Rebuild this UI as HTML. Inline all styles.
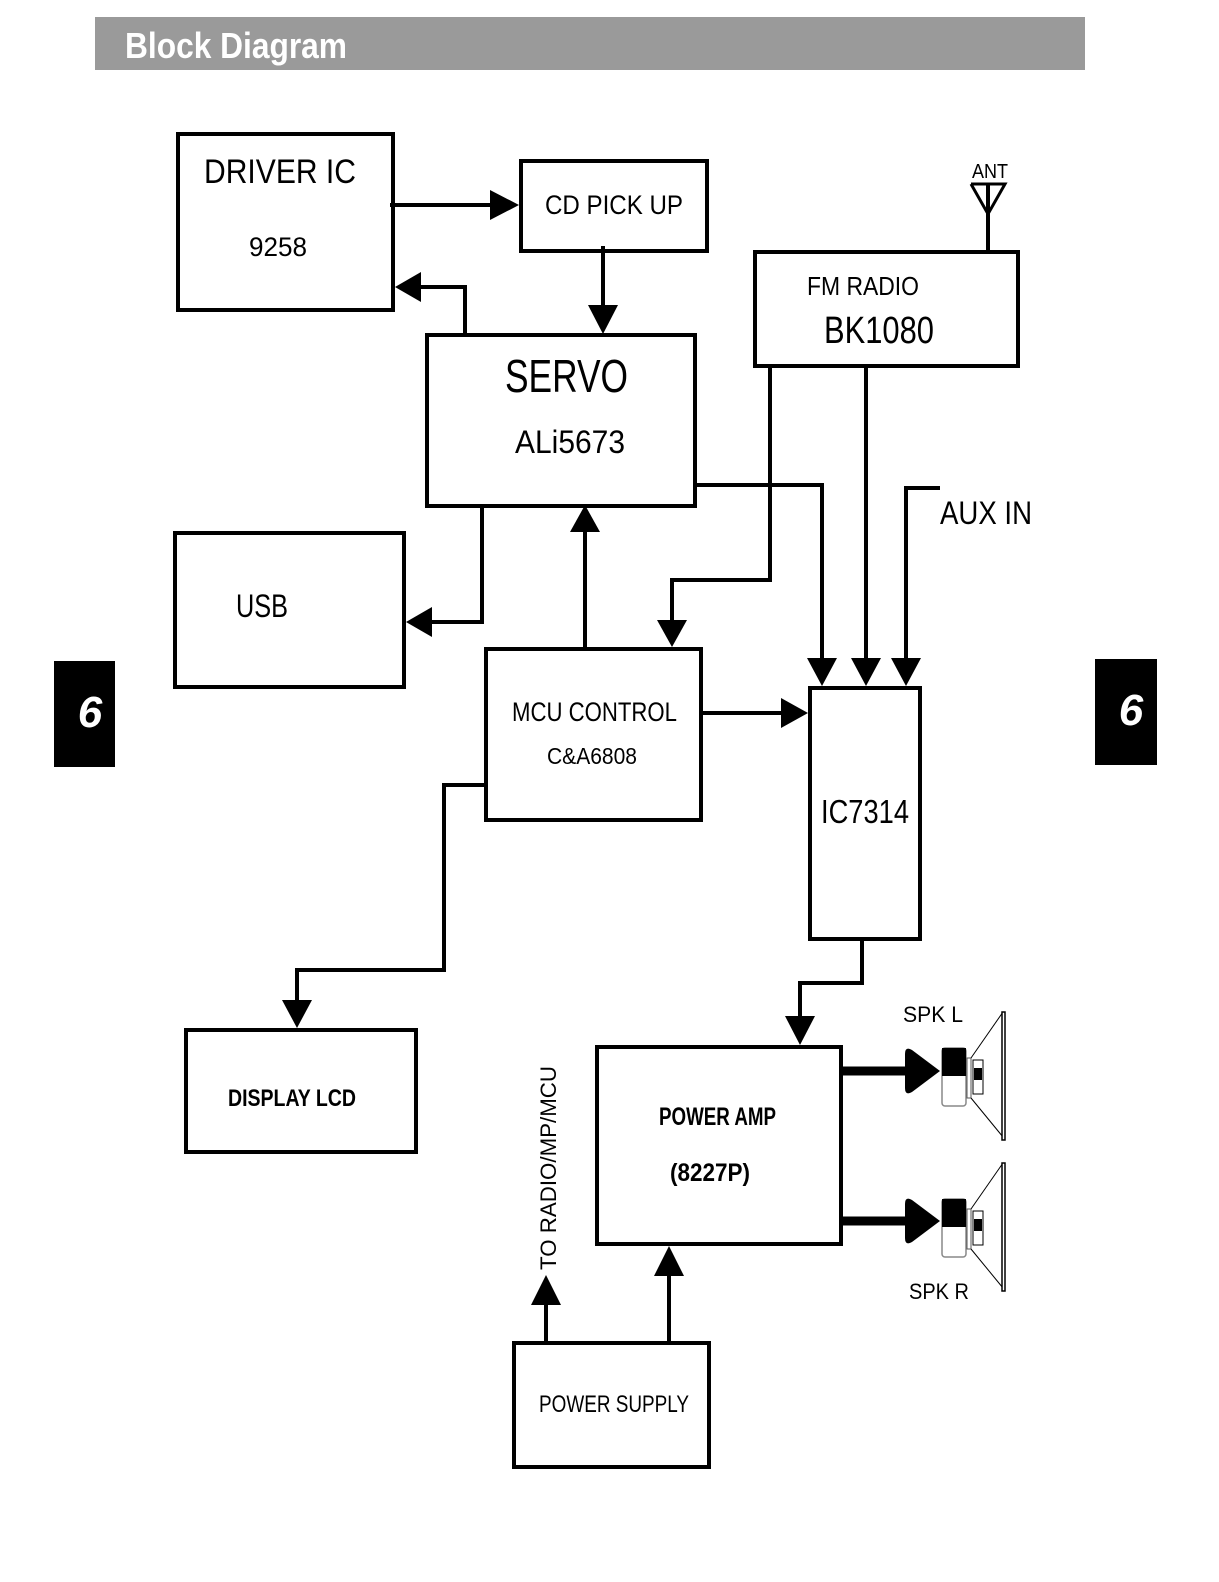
<!DOCTYPE html>
<html><head><meta charset="utf-8"><style>
html,body{margin:0;padding:0;background:#fff;width:1219px;height:1582px;overflow:hidden}
svg{display:block;position:absolute;left:0;top:0}
text{font-family:"Liberation Sans",sans-serif}
</style></head><body>
<svg width="1219" height="1582" viewBox="0 0 1219 1582" xmlns="http://www.w3.org/2000/svg">
<rect x="95" y="17" width="990" height="53" fill="#9a9a9a"/>
<text x="125" y="58" font-size="36" font-weight="bold" fill="#fff" textLength="222" lengthAdjust="spacingAndGlyphs">Block Diagram</text>
<rect x="54" y="661" width="61" height="106" fill="#000"/>
<text x="90" y="727" font-size="44" font-weight="bold" font-style="italic" fill="#fff" text-anchor="middle">6</text>
<rect x="1095" y="659" width="62" height="106" fill="#000"/>
<text x="1131" y="725" font-size="44" font-weight="bold" font-style="italic" fill="#fff" text-anchor="middle">6</text>
<g fill="none" stroke="#000" stroke-width="4">
<rect x="178" y="134" width="215" height="176"/>
<rect x="521" y="161" width="186" height="90"/>
<rect x="755" y="252" width="263" height="114"/>
<rect x="427" y="335" width="268" height="171"/>
<rect x="175" y="533" width="229" height="154"/>
<rect x="486" y="649" width="215" height="171"/>
<rect x="810" y="688" width="110" height="251"/>
<rect x="186" y="1030" width="230" height="122"/>
<rect x="597" y="1047" width="244" height="197"/>
<rect x="514" y="1343" width="195" height="124"/>
<polyline points="390,205 492,205"/>
<polyline points="603,246 603,307"/>
<polyline points="465,335 465,287 420,287"/>
<polyline points="988,252 988,185"/>
<polyline points="971,184 1005,184 988,214 971,184" stroke-width="3"/>
<polyline points="482,506 482,622 430,622"/>
<polyline points="585,649 585,530"/>
<polyline points="770,366 770,580 672,580 672,622"/>
<polyline points="866,366 866,660"/>
<polyline points="695,485 822,485 822,660"/>
<polyline points="940,488 906,488 906,660"/>
<polyline points="701,713 782,713"/>
<polyline points="486,785 444,785 444,970 297,970 297,1002"/>
<polyline points="862,939 862,983 800,983 800,1017"/>
<polyline points="546,1343 546,1303"/>
<polyline points="669,1343 669,1273"/>
<polyline points="841,1071 906,1071" stroke-width="9"/>
<polyline points="841,1221 906,1221" stroke-width="9"/>
</g>
<g fill="#000">
<polygon points="490,190 519,205 490,220"/>
<polygon points="588,305 618,305 603,334"/>
<polygon points="421,272 421,302 395,287"/>
<polygon points="432,607 432,637 406,622"/>
<polygon points="570,532 600,532 585,505"/>
<polygon points="657,620 687,620 672,647"/>
<polygon points="851,658 881,658 866,686"/>
<polygon points="807,658 837,658 822,686"/>
<polygon points="891,658 921,658 906,686"/>
<polygon points="781,698 781,728 808,713"/>
<polygon points="282,1000 312,1000 297,1028"/>
<polygon points="785,1016 815,1016 800,1045"/>
<polygon points="531,1305 561,1305 546,1275"/>
<polygon points="654,1276 684,1276 669,1246"/>
<path d="M905,1054 Q905,1046 912,1050 L940,1071 L912,1092 Q905,1096 905,1088 Z"/>
<path d="M905,1204 Q905,1196 912,1200 L940,1221 L912,1242 Q905,1246 905,1238 Z"/>
</g>
<g>
<rect x="942" y="1048" width="24" height="58" fill="#fff" stroke="#888" stroke-width="1.5" rx="3"/>
<rect x="942" y="1048" width="24" height="28" fill="#000"/>
<rect x="967" y="1058" width="4" height="40" fill="#fff" stroke="#555"/>
<rect x="973" y="1060" width="10" height="34" fill="#fff" stroke="#000"/>
<rect x="974" y="1068" width="8" height="12" fill="#000"/>
<polyline points="971,1058 1003,1012" fill="none" stroke="#000"/>
<polyline points="971,1098 1003,1137" fill="none" stroke="#000"/>
<rect x="1002" y="1012" width="3" height="128" fill="#fff" stroke="#000" stroke-width="1.5"/>
<rect x="942" y="1199" width="24" height="58" fill="#fff" stroke="#888" stroke-width="1.5" rx="3"/>
<rect x="942" y="1199" width="24" height="28" fill="#000"/>
<rect x="967" y="1209" width="4" height="40" fill="#fff" stroke="#555"/>
<rect x="973" y="1211" width="10" height="34" fill="#fff" stroke="#000"/>
<rect x="974" y="1219" width="8" height="12" fill="#000"/>
<polyline points="971,1209 1003,1163" fill="none" stroke="#000"/>
<polyline points="971,1249 1003,1288" fill="none" stroke="#000"/>
<rect x="1002" y="1163" width="3" height="128" fill="#fff" stroke="#000" stroke-width="1.5"/>
</g>
<g fill="#000">
<text x="204" y="183" font-size="34" textLength="152" lengthAdjust="spacingAndGlyphs">DRIVER  IC</text>
<text x="249" y="256" font-size="27" textLength="58" lengthAdjust="spacingAndGlyphs">9258</text>
<text x="545" y="214" font-size="27" textLength="138" lengthAdjust="spacingAndGlyphs">CD  PICK  UP</text>
<text x="972" y="178" font-size="20" textLength="36" lengthAdjust="spacingAndGlyphs">ANT</text>
<text x="807" y="295" font-size="26" textLength="112" lengthAdjust="spacingAndGlyphs">FM  RADIO</text>
<text x="824" y="343" font-size="38" textLength="110" lengthAdjust="spacingAndGlyphs">BK1080</text>
<text x="505" y="392" font-size="46" textLength="123" lengthAdjust="spacingAndGlyphs">SERVO</text>
<text x="515" y="453" font-size="32" textLength="110" lengthAdjust="spacingAndGlyphs">ALi5673</text>
<text x="940" y="524" font-size="32" textLength="92" lengthAdjust="spacingAndGlyphs">AUX  IN</text>
<text x="236" y="617" font-size="32" textLength="52" lengthAdjust="spacingAndGlyphs">USB</text>
<text x="512" y="721" font-size="27" textLength="165" lengthAdjust="spacingAndGlyphs">MCU  CONTROL</text>
<text x="547" y="764" font-size="23" textLength="90" lengthAdjust="spacingAndGlyphs">C&amp;A6808</text>
<text x="821" y="823" font-size="33" textLength="88" lengthAdjust="spacingAndGlyphs">IC7314</text>
<text x="903" y="1022" font-size="22" textLength="60" lengthAdjust="spacingAndGlyphs">SPK  L</text>
<text x="909" y="1299" font-size="22" textLength="60" lengthAdjust="spacingAndGlyphs">SPK  R</text>
<text x="228" y="1106" font-size="24" font-weight="bold" textLength="128" lengthAdjust="spacingAndGlyphs">DISPLAY  LCD</text>
<text x="659" y="1125" font-size="25" font-weight="bold" textLength="117" lengthAdjust="spacingAndGlyphs">POWER  AMP</text>
<text x="670" y="1181" font-size="25" font-weight="bold" textLength="80" lengthAdjust="spacingAndGlyphs">(8227P)</text>
<text x="539" y="1412" font-size="24" textLength="150" lengthAdjust="spacingAndGlyphs">POWER  SUPPLY</text>
<text transform="translate(556,1270) rotate(-90)" font-size="22" textLength="204" lengthAdjust="spacingAndGlyphs">TO  RADIO/MP/MCU</text>
</g>
</svg>
</body></html>
